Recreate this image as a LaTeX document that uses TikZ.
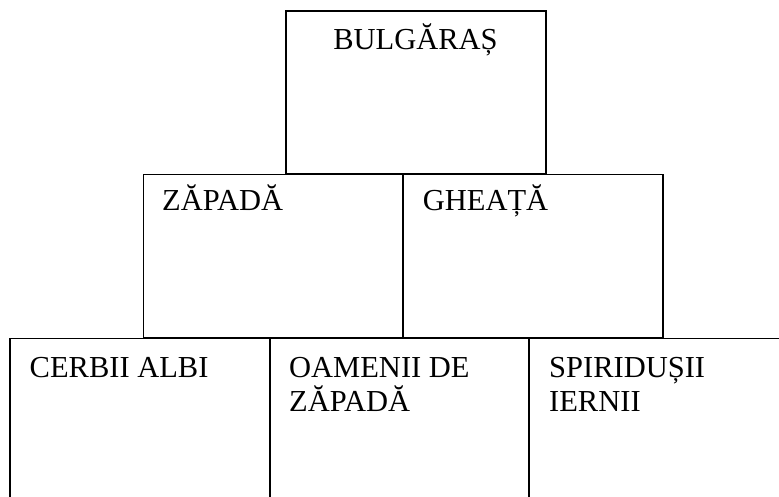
\documentclass[tikz,border=0pt]{standalone}
\usepackage{fontspec}
\setmainfont{Liberation Serif}
\begin{document}
\begin{tikzpicture}[x=1pt,y=1pt,
  box/.style={draw=black, line width=1.1pt, minimum width=260pt, inner sep=0pt, outer sep=0pt, rectangle},
  lbl/.style={anchor=base west, inner sep=0pt, font=\fontsize{30.5}{34}\selectfont},
  lblc/.style={anchor=base, inner sep=0pt, font=\fontsize{30.5}{34}\selectfont}]
\useasboundingbox (0,0) rectangle (779,496);
\clip (0,0) rectangle (779,496);
% top
\node[box, minimum height=163pt] (bul) at (416,403.5) {};
% middle
\node[box, minimum height=163.5pt] (zap) at (273.2,239.75) {};
\node[box, minimum height=163.5pt] (ghe) at (533,239.75) {};
% bottom
\node[box, minimum height=170pt] (cer) at (140,72.5) {};
\node[box, minimum height=170pt] (oam) at (399.5,72.5) {};
\node[box, minimum height=170pt] (spi) at (659,72.5) {};
% labels
\node[lblc] (tbul) at (415.5,446) {BULGĂRAȘ};
\node[lbl] (tzap) at (162,285) {ZĂPADĂ};
\node[lbl] (tghe) at (422.7,285) {GHEAȚĂ};
\node[lbl] (tcer) at (29.5,118.5) {CERBII ALBI};
\node[lbl] (toam1) at (289,118.5) {OAMENII DE};
\node[lbl] (toam2) at (289,84.5) {ZĂPADĂ};
\node[lbl] (tspi1) at (549,118.5) {SPIRIDUȘII};
\node[lbl] (tspi2) at (549,84.5) {IERNII};
\end{tikzpicture}
\end{document}
